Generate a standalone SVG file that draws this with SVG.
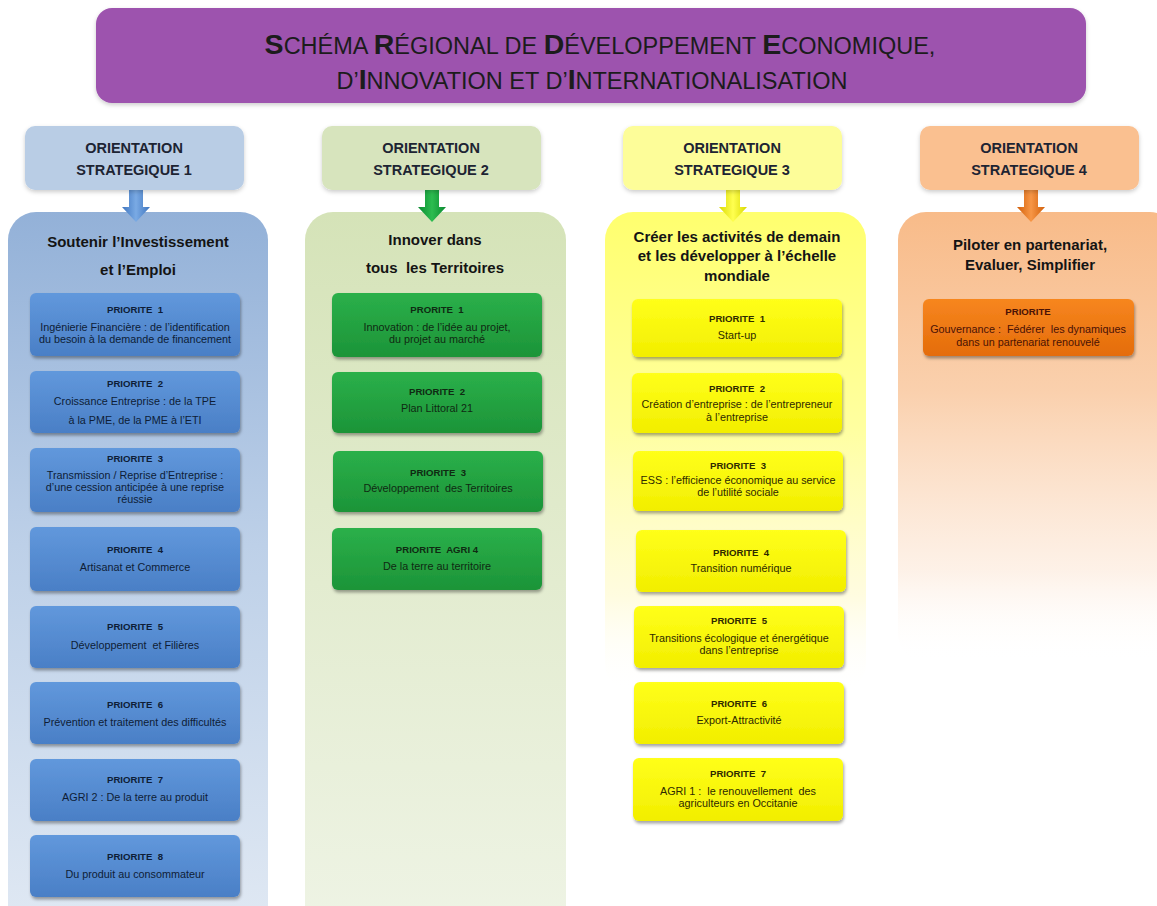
<svg xmlns="http://www.w3.org/2000/svg" width="1157" height="906" viewBox="0 0 1157 906">
<style>
text { font-family: "Liberation Sans", Arial, sans-serif; text-anchor: middle; }
.t1 { font-size: 23.5px; fill: #1c1c1c; }
.tb { font-size: 28.5px; font-weight: bold; }
.hdr { font-size: 14.5px; font-weight: bold; fill: #1d2433; }
.ptl { font-size: 15px; font-weight: bold; fill: #141414; }
.pr { font-size: 9.6px; font-weight: bold; }
.bd { font-size: 10.8px; }
.cb text { fill: #0e1d36; }
.cg text { fill: #0f2a12; }
.cy text { fill: #2e2a00; }
.co text { fill: #4a1205; }
</style>
<defs>
  <filter id="sh" x="-10%" y="-10%" width="120%" height="140%">
    <feDropShadow dx="1" dy="2.5" stdDeviation="1.5" flood-color="#000" flood-opacity="0.35"/>
  </filter>
  <filter id="shs" x="-10%" y="-10%" width="120%" height="140%">
    <feDropShadow dx="0" dy="2" stdDeviation="2" flood-color="#000" flood-opacity="0.2"/>
  </filter>
  <linearGradient id="gp1" x1="0" y1="0" x2="0" y2="1">
    <stop offset="0" stop-color="#93b1d8"/>
    <stop offset="0.45" stop-color="#bdd0e8"/>
    <stop offset="1" stop-color="#e2eaf4"/>
  </linearGradient>
  <linearGradient id="gp2" x1="0" y1="0" x2="0" y2="1">
    <stop offset="0" stop-color="#d5e3b8"/>
    <stop offset="0.5" stop-color="#e3ecd0"/>
    <stop offset="1" stop-color="#eff4e6"/>
  </linearGradient>
  <linearGradient id="gp3" x1="0" y1="0" x2="0" y2="1">
    <stop offset="0" stop-color="#ffff6e"/>
    <stop offset="0.45" stop-color="#ffffa0"/>
    <stop offset="0.8" stop-color="#fffbd8" stop-opacity="0.8"/>
    <stop offset="1" stop-color="#ffffff" stop-opacity="0"/>
  </linearGradient>
  <linearGradient id="gp4" x1="0" y1="0" x2="0" y2="1">
    <stop offset="0" stop-color="#f8bb89"/>
    <stop offset="0.4" stop-color="#fad0ad"/>
    <stop offset="0.8" stop-color="#fdeee2" stop-opacity="0.8"/>
    <stop offset="1" stop-color="#ffffff" stop-opacity="0"/>
  </linearGradient>
  <linearGradient id="gb" x1="0" y1="0" x2="0" y2="1">
    <stop offset="0" stop-color="#6198dc"/>
    <stop offset="1" stop-color="#4a7fc6"/>
  </linearGradient>
  <linearGradient id="gg" x1="0" y1="0" x2="0" y2="1">
    <stop offset="0" stop-color="#2bb04a"/>
    <stop offset="1" stop-color="#1c9438"/>
  </linearGradient>
  <linearGradient id="gy" x1="0" y1="0" x2="0" y2="1">
    <stop offset="0" stop-color="#ffff1a"/>
    <stop offset="1" stop-color="#f2ee00"/>
  </linearGradient>
  <linearGradient id="go" x1="0" y1="0" x2="0" y2="1">
    <stop offset="0" stop-color="#f7861f"/>
    <stop offset="1" stop-color="#e46c0a"/>
  </linearGradient>
  <linearGradient id="ab" x1="0" y1="0" x2="1" y2="0">
    <stop offset="0" stop-color="#3f76c0"/><stop offset="0.5" stop-color="#7aaae4"/><stop offset="1" stop-color="#3f76c0"/>
  </linearGradient>
  <linearGradient id="ag" x1="0" y1="0" x2="1" y2="0">
    <stop offset="0" stop-color="#0a8a30"/><stop offset="0.5" stop-color="#2cbc50"/><stop offset="1" stop-color="#0a8a30"/>
  </linearGradient>
  <linearGradient id="ay" x1="0" y1="0" x2="1" y2="0">
    <stop offset="0" stop-color="#d9d900"/><stop offset="0.5" stop-color="#ffff50"/><stop offset="1" stop-color="#d9d900"/>
  </linearGradient>
  <linearGradient id="ao" x1="0" y1="0" x2="1" y2="0">
    <stop offset="0" stop-color="#d2600a"/><stop offset="0.5" stop-color="#f79646"/><stop offset="1" stop-color="#d2600a"/>
  </linearGradient>
</defs>

<rect width="1157" height="906" fill="#ffffff"/>

<g id="title">
  <rect x="96" y="8" width="990" height="95" rx="16" fill="#9d53ae" filter="url(#shs)"/>
  <text class="t1" x="600" y="54"><tspan class="tb">S</tspan>CHÉMA <tspan class="tb">R</tspan>ÉGIONAL DE <tspan class="tb">D</tspan>ÉVELOPPEMENT <tspan class="tb">E</tspan>CONOMIQUE,</text>
  <text class="t1" x="592" y="89">D’<tspan class="tb">I</tspan>NNOVATION ET D’<tspan class="tb">I</tspan>NTERNATIONALISATION</text>
</g>

<g id="panels">
  <g id="panel1">
    <rect x="8" y="212" width="260" height="740" rx="28" fill="url(#gp1)"/>
    <text class="ptl" x="138" y="247">Soutenir l’Investissement</text>
    <text class="ptl" x="138" y="275">et l’Emploi</text>
  </g>
  <g id="panel2">
    <rect x="305" y="212" width="261" height="740" rx="28" fill="url(#gp2)"/>
    <text class="ptl" x="435" y="245">Innover dans</text>
    <text class="ptl" x="435" y="273" xml:space="preserve">tous  les Territoires</text>
  </g>
  <g id="panel3">
    <rect x="605" y="212" width="261" height="480" rx="28" fill="url(#gp3)"/>
    <text class="ptl" x="737" y="242">Créer les activités de demain</text>
    <text class="ptl" x="737" y="261">et les développer à l’échelle</text>
    <text class="ptl" x="737" y="281">mondiale</text>
  </g>
  <g id="panel4">
    <rect x="898" y="212" width="280" height="450" rx="28" fill="url(#gp4)"/>
    <text class="ptl" x="1030" y="250">Piloter en partenariat,</text>
    <text class="ptl" x="1030" y="270">Evaluer, Simplifier</text>
  </g>
</g>

<g id="connectors">
  <path d="M129,190 H143 V207 H150 L136,222 L122,207 H129 Z" fill="url(#ab)"/>
  <path d="M425,190 H439 V207 H446 L432,222 L418,207 H425 Z" fill="url(#ag)"/>
  <path d="M726,190 H740 V207 H747 L733,222 L719,207 H726 Z" fill="url(#ay)"/>
  <path d="M1024,190 H1038 V207 H1045 L1031,222 L1017,207 H1024 Z" fill="url(#ao)"/>
</g>

<g id="os1">
  <rect x="25" y="126" width="219" height="64" rx="10" fill="#b9cde5" filter="url(#shs)"/>
  <text class="hdr" x="134" y="153">ORIENTATION</text>
  <text class="hdr" x="134" y="175">STRATEGIQUE 1</text>
</g>
<g id="os2">
  <rect x="322" y="126" width="219" height="64" rx="10" fill="#d7e4bd" filter="url(#shs)"/>
  <text class="hdr" x="431" y="153">ORIENTATION</text>
  <text class="hdr" x="431" y="175">STRATEGIQUE 2</text>
</g>
<g id="os3">
  <rect x="623" y="126" width="219" height="64" rx="10" fill="#fdfd99" filter="url(#shs)"/>
  <text class="hdr" x="732" y="153">ORIENTATION</text>
  <text class="hdr" x="732" y="175">STRATEGIQUE 3</text>
</g>
<g id="os4">
  <rect x="920" y="126" width="219" height="64" rx="10" fill="#fac090" filter="url(#shs)"/>
  <text class="hdr" x="1029" y="153">ORIENTATION</text>
  <text class="hdr" x="1029" y="175">STRATEGIQUE 4</text>
</g>

<g class="cb">
  <g id="b1p1"><rect x="30" y="293" width="210" height="63" rx="6" fill="url(#gb)" filter="url(#sh)"/>
    <text class="pr" x="135" y="313" xml:space="preserve">PRIORITE  1</text>
    <text class="bd" x="135" y="331">Ingénierie Financière : de  l’identification</text>
    <text class="bd" x="135" y="343">du besoin à la demande de financement</text></g>
  <g id="b1p2"><rect x="30" y="371" width="210" height="62" rx="6" fill="url(#gb)" filter="url(#sh)"/>
    <text class="pr" x="135" y="387" xml:space="preserve">PRIORITE  2</text>
    <text class="bd" x="135" y="405">Croissance Entreprise : de la TPE</text>
    <text class="bd" x="135" y="424">à la PME, de la PME à l’ETI</text></g>
  <g id="b1p3"><rect x="30" y="448" width="210" height="64" rx="6" fill="url(#gb)" filter="url(#sh)"/>
    <text class="pr" x="135" y="462" xml:space="preserve">PRIORITE  3</text>
    <text class="bd" x="135" y="479">Transmission / Reprise d’Entreprise :</text>
    <text class="bd" x="135" y="491">d’une cession anticipée à une reprise</text>
    <text class="bd" x="135" y="503">réussie</text></g>
  <g id="b1p4"><rect x="30" y="527" width="210" height="64" rx="6" fill="url(#gb)" filter="url(#sh)"/>
    <text class="pr" x="135" y="553" xml:space="preserve">PRIORITE  4</text>
    <text class="bd" x="135" y="571">Artisanat et Commerce</text></g>
  <g id="b1p5"><rect x="30" y="606" width="210" height="62" rx="6" fill="url(#gb)" filter="url(#sh)"/>
    <text class="pr" x="135" y="630" xml:space="preserve">PRIORITE  5</text>
    <text class="bd" x="135" y="649" xml:space="preserve">Développement  et Filières</text></g>
  <g id="b1p6"><rect x="30" y="682" width="210" height="62" rx="6" fill="url(#gb)" filter="url(#sh)"/>
    <text class="pr" x="135" y="708" xml:space="preserve">PRIORITE  6</text>
    <text class="bd" x="135" y="726">Prévention et traitement  des difficultés</text></g>
  <g id="b1p7"><rect x="30" y="759" width="210" height="62" rx="6" fill="url(#gb)" filter="url(#sh)"/>
    <text class="pr" x="135" y="783" xml:space="preserve">PRIORITE  7</text>
    <text class="bd" x="135" y="801">AGRI 2 : De la terre au produit</text></g>
  <g id="b1p8"><rect x="30" y="835" width="210" height="62" rx="6" fill="url(#gb)" filter="url(#sh)"/>
    <text class="pr" x="135" y="860" xml:space="preserve">PRIORITE  8</text>
    <text class="bd" x="135" y="878">Du produit au consommateur</text></g>
</g>

<g class="cg">
  <g id="b2p1"><rect x="332" y="293" width="210" height="64" rx="6" fill="url(#gg)" filter="url(#sh)"/>
    <text class="pr" x="437" y="313" xml:space="preserve">PRORITE  1</text>
    <text class="bd" x="437" y="331">Innovation : de l’idée au projet,</text>
    <text class="bd" x="437" y="343">du projet au marché</text></g>
  <g id="b2p2"><rect x="332" y="372" width="210" height="61" rx="6" fill="url(#gg)" filter="url(#sh)"/>
    <text class="pr" x="437" y="395" xml:space="preserve">PRIORITE  2</text>
    <text class="bd" x="437" y="412">Plan Littoral 21</text></g>
  <g id="b2p3"><rect x="333" y="451" width="210" height="61" rx="6" fill="url(#gg)" filter="url(#sh)"/>
    <text class="pr" x="438" y="476" xml:space="preserve">PRIORITE  3</text>
    <text class="bd" x="438" y="492" xml:space="preserve">Développement  des Territoires</text></g>
  <g id="b2p4"><rect x="332" y="528" width="210" height="62" rx="6" fill="url(#gg)" filter="url(#sh)"/>
    <text class="pr" x="437" y="553" xml:space="preserve">PRIORITE  AGRI 4</text>
    <text class="bd" x="437" y="570">De la terre au territoire</text></g>
</g>

<g class="cy">
  <g id="b3p1"><rect x="632" y="299" width="210" height="58" rx="6" fill="url(#gy)" filter="url(#sh)"/>
    <text class="pr" x="737" y="322" xml:space="preserve">PRIORITE  1</text>
    <text class="bd" x="737" y="339">Start-up</text></g>
  <g id="b3p2"><rect x="632" y="373" width="210" height="60" rx="6" fill="url(#gy)" filter="url(#sh)"/>
    <text class="pr" x="737" y="392" xml:space="preserve">PRIORITE  2</text>
    <text class="bd" x="737" y="408">Création d’entreprise : de l’entrepreneur</text>
    <text class="bd" x="737" y="421">à l’entreprise</text></g>
  <g id="b3p3"><rect x="633" y="451" width="210" height="60" rx="6" fill="url(#gy)" filter="url(#sh)"/>
    <text class="pr" x="738" y="469" xml:space="preserve">PRIORITE  3</text>
    <text class="bd" x="738" y="484">ESS : l’efficience économique au service</text>
    <text class="bd" x="738" y="496">de l’utilité sociale</text></g>
  <g id="b3p4"><rect x="636" y="530" width="210" height="62" rx="6" fill="url(#gy)" filter="url(#sh)"/>
    <text class="pr" x="741" y="556" xml:space="preserve">PRIORITE  4</text>
    <text class="bd" x="741" y="572">Transition numérique</text></g>
  <g id="b3p5"><rect x="634" y="606" width="210" height="62" rx="6" fill="url(#gy)" filter="url(#sh)"/>
    <text class="pr" x="739" y="624" xml:space="preserve">PRIORITE  5</text>
    <text class="bd" x="739" y="642">Transitions écologique et énergétique</text>
    <text class="bd" x="739" y="654">dans l’entreprise</text></g>
  <g id="b3p6"><rect x="634" y="682" width="210" height="62" rx="6" fill="url(#gy)" filter="url(#sh)"/>
    <text class="pr" x="739" y="707" xml:space="preserve">PRIORITE  6</text>
    <text class="bd" x="739" y="724">Export-Attractivité</text></g>
  <g id="b3p7"><rect x="633" y="758" width="210" height="63" rx="6" fill="url(#gy)" filter="url(#sh)"/>
    <text class="pr" x="738" y="777" xml:space="preserve">PRIORITE  7</text>
    <text class="bd" x="738" y="795" xml:space="preserve">AGRI 1 :  le renouvellement  des</text>
    <text class="bd" x="738" y="807">agriculteurs en Occitanie</text></g>
</g>

<g class="co">
  <g id="b4p1"><rect x="923" y="299" width="211" height="57" rx="6" fill="url(#go)" filter="url(#sh)"/>
    <text class="pr" x="1028" y="315">PRIORITE</text>
    <text class="bd" x="1028" y="333" xml:space="preserve">Gouvernance :  Fédérer  les dynamiques</text>
    <text class="bd" x="1028" y="346">dans un partenariat renouvelé</text></g>
</g>
</svg>
